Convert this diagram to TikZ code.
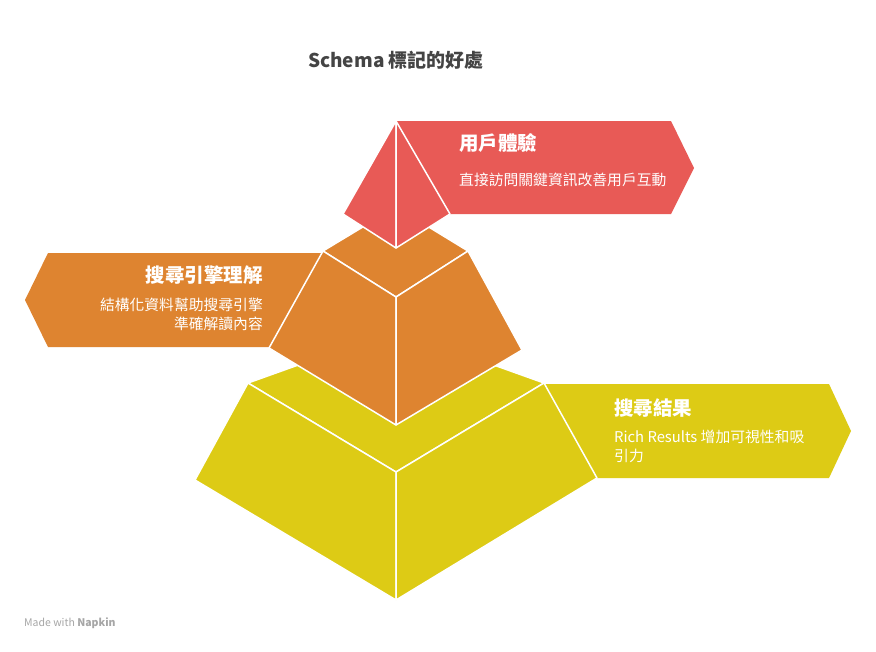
\documentclass[tikz,border=0pt]{standalone}
\usepackage{fontspec}
\setmainfont{Noto Sans CJK TC}
\usetikzlibrary{positioning}
\definecolor{tierred}{HTML}{E85A56}
\definecolor{tierorange}{HTML}{DE8430}
\definecolor{tieryellow}{HTML}{DDCB15}
\definecolor{titlegray}{HTML}{444444}
\tikzset{
	face/.style={draw=white, line width=1.5pt, line join=round},
	banner/.style={draw=none},
	headtext/.style={text=white, font=\bfseries\fontsize{19.5}{21}\selectfont, inner sep=0pt},
	bodytext/.style={text=white, font=\fontsize{14.8}{18.5}\selectfont, inner sep=0pt, align=left}
}
\begin{document}
\begin{tikzpicture}[x=1pt, y=-1pt]
		\useasboundingbox (0,0) rectangle (876,651);
		\fill[white] (0,0) rectangle (876,651);

		% title
		\node[text=titlegray, font=\bfseries\fontsize{19}{21}\selectfont] (title) at (396,60) {Schema 標記的好處};

		% banners
		\fill[banner, tierred] (396,121) -- (671,121) -- (694,168) -- (671,214) -- (450,214) -- cycle;
		\fill[banner, tierorange] (48,253) -- (323,253) -- (269,347) -- (48,347) -- (25,300) -- cycle;
		\fill[banner, tieryellow] (544,384) -- (829,384) -- (851,431) -- (829,478) -- (597,478) -- cycle;

		% bottom tier
		\filldraw[face, fill=tieryellow] (248,383) -- (396,330) -- (544,383) -- (396,472) -- cycle;
		\filldraw[face, fill=tieryellow] (248,383) -- (396,472) -- (396,600) -- (195,480) -- cycle;
		\filldraw[face, fill=tieryellow] (396,472) -- (544,383) -- (597,478) -- (396,600) -- cycle;

		% middle tier
		\filldraw[face, fill=tierorange] (323,251) -- (396,207) -- (468,251) -- (396,297) -- cycle;
		\filldraw[face, fill=tierorange] (323,251) -- (396,297) -- (396,425) -- (269,348) -- cycle;
		\filldraw[face, fill=tierorange] (396,297) -- (468,251) -- (522,350) -- (396,425) -- cycle;

		% top tier
		\filldraw[face, fill=tierred] (396,121) -- (396,248) -- (343,214) -- cycle;
		\filldraw[face, fill=tierred] (396,121) -- (450,214) -- (396,248) -- cycle;

		% labels
		\node[headtext, anchor=west] (uxhead) at (459,143) {用戶體驗};
		\node[bodytext, anchor=west] (uxbody) at (459,180) {直接訪問關鍵資訊改善用戶互動};
		\node[headtext, anchor=east] (seohead) at (263,275) {搜尋引擎理解};
		\node[bodytext, anchor=north east, align=right] (seobody) at (263,298) {結構化資料幫助搜尋引擎\\準確解讀內容};
		\node[headtext, anchor=west] (reshead) at (614,408) {搜尋結果};
		\node[bodytext, anchor=north west] (resbody) at (614,430) {Rich Results 增加可視性和吸\\引力};

		% footer
		\node[text=gray!70, font=\fontsize{10.5}{12}\selectfont, anchor=west, inner sep=0pt] (footer) at (24,623) {Made with \textbf{Napkin}};
\end{tikzpicture}
\end{document}
